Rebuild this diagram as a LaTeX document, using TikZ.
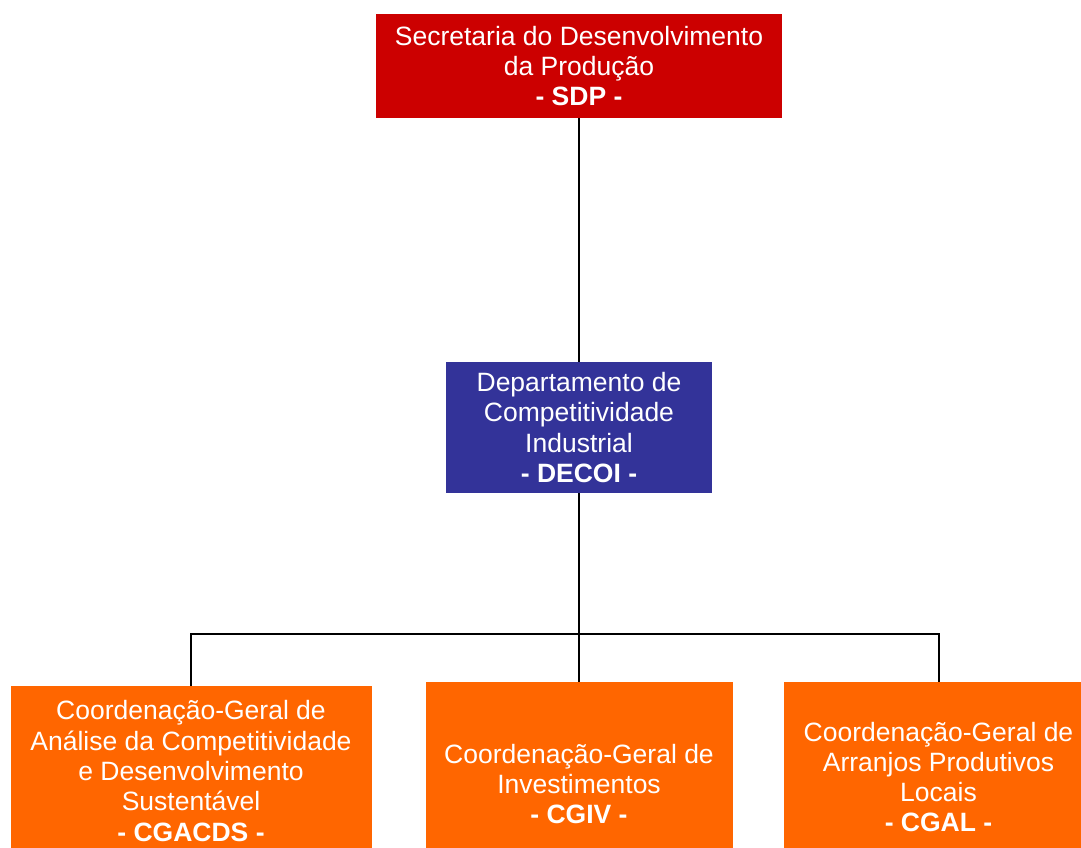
\documentclass[tikz,border=0pt]{standalone}
\usepackage{fontspec}
\setmainfont{Liberation Sans}
\usetikzlibrary{positioning}

\definecolor{sdpred}{HTML}{CC0000}
\definecolor{decoiblue}{HTML}{333399}
\definecolor{cgorange}{HTML}{FF6600}

\begin{document}
\begin{tikzpicture}[-,line width=2pt,x=1pt,y=1pt,node distance=2cm]
	\tikzstyle{unit}=[draw=none,text=white,align=center,inner sep=0pt,outer sep=0pt,
		font=\fontsize{26.5}{30.3}\selectfont]
	\tikzstyle{secretaria}=[unit,fill=sdpred,minimum width=406pt,minimum height=104pt]
	\tikzstyle{departamento}=[unit,fill=decoiblue,minimum width=266pt,minimum height=131pt]
	\tikzstyle{coordenacao}=[unit,fill=cgorange]

	\useasboundingbox (0,0) rectangle (1081,-848);

	\node[secretaria] (sdp) at (579,-66) {Secretaria do Desenvolvimento\\da Produção\\\textbf{- SDP -}};

	\node[departamento] (decoi) [below=244pt of sdp] {Departamento de\\Competitividade\\Industrial\\\textbf{- DECOI -}};

	\node[coordenacao,minimum width=307pt,minimum height=204pt] (cgiv) [below=189pt of decoi] {Coordenação-Geral de\\Investimentos\\\textbf{- CGIV -}};

	\node[coordenacao,minimum width=361pt,minimum height=170pt] (cgacds) [left=54pt of cgiv.north west,anchor=north east,yshift=-4pt] {Coordenação-Geral de\\Análise da Competitividade\\e Desenvolvimento\\Sustentável\\\textbf{- CGACDS -}};

	\node[coordenacao,minimum width=310pt,minimum height=190pt] (cgal) [right=51pt of cgiv.north east,anchor=north west] {Coordenação-Geral de\\Arranjos Produtivos\\Locais\\\textbf{- CGAL -}};

	\coordinate[below=141pt of decoi.south] (bus);

	\path[draw]
	(sdp) -- (decoi)
	(decoi) -- (cgiv)
	(cgacds.north) |- (bus) -| (cgal.north)
	;
\end{tikzpicture}
\end{document}
